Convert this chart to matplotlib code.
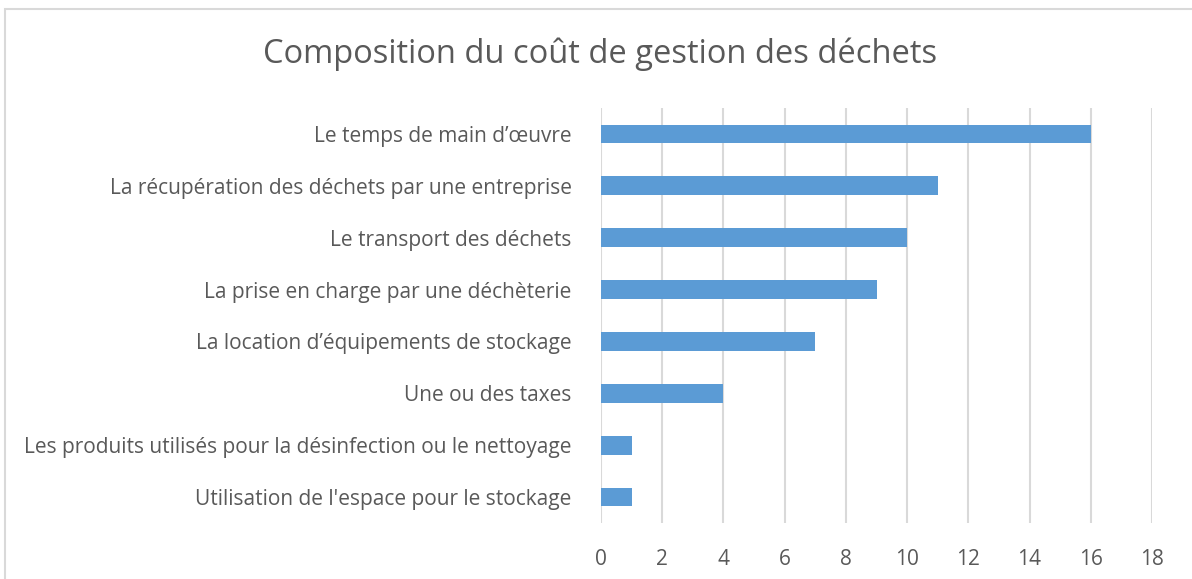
import matplotlib.pyplot as plt
from matplotlib.patches import Rectangle

categories = [
    "Le temps de main d\u2019\u0153uvre",
    "La r\u00e9cup\u00e9ration des d\u00e9chets par une entreprise",
    "Le transport des d\u00e9chets",
    "La prise en charge par une d\u00e9ch\u00e8terie",
    "La location d\u2019\u00e9quipements de stockage",
    "Une ou des taxes",
    "Les produits utilis\u00e9s pour la d\u00e9sinfection ou le nettoyage",
    "Utilisation de l'espace pour le stockage",
]
values = [16, 11, 10, 9, 7, 4, 1, 1]
xticks = [0, 2, 4, 6, 8, 10, 12, 14, 16, 18]

text_color = "#595959"
grid_color = "#D9D9D9"
bar_color = "#5B9BD5"

plt.rcParams['font.family'] = ['Open Sans', 'DejaVu Sans']

fig = plt.figure(figsize=(11.92, 5.79), dpi=100)
ax = fig.add_axes([601 / 1192, 1 - 523 / 579, 551 / 1192, 415 / 579])

y = list(range(len(categories)))
ax.barh(y, values, height=0.36, color=bar_color, zorder=3)
ax.set_ylim(len(categories) - 0.5, -0.5)
ax.set_xlim(0, 18)
ax.set_xticks(xticks)
ax.set_yticks(y)
ax.set_yticklabels(categories, fontsize=15, color=text_color)
ax.tick_params(axis='x', labelsize=15, colors=text_color, length=0, pad=19)
ax.tick_params(axis='y', length=0, pad=21)
ax.grid(axis='x', color=grid_color, linewidth=1.5, zorder=0)
for s in ax.spines.values():
    s.set_visible(False)

fig.text(600 / 1192, 1 - 54 / 579, "Composition du co\u00fbt de gestion des d\u00e9chets",
         ha='center', va='center', fontsize=23.5, color=text_color)

# chart area border (only left and top are visible in the crop)
fig.patches.append(Rectangle((5 / 1192, -0.1), 2, 1.1 - 9.5 / 579,
                             transform=fig.transFigure, fill=False,
                             edgecolor=grid_color, linewidth=1.5))

fig.savefig("out.png", dpi=100)
